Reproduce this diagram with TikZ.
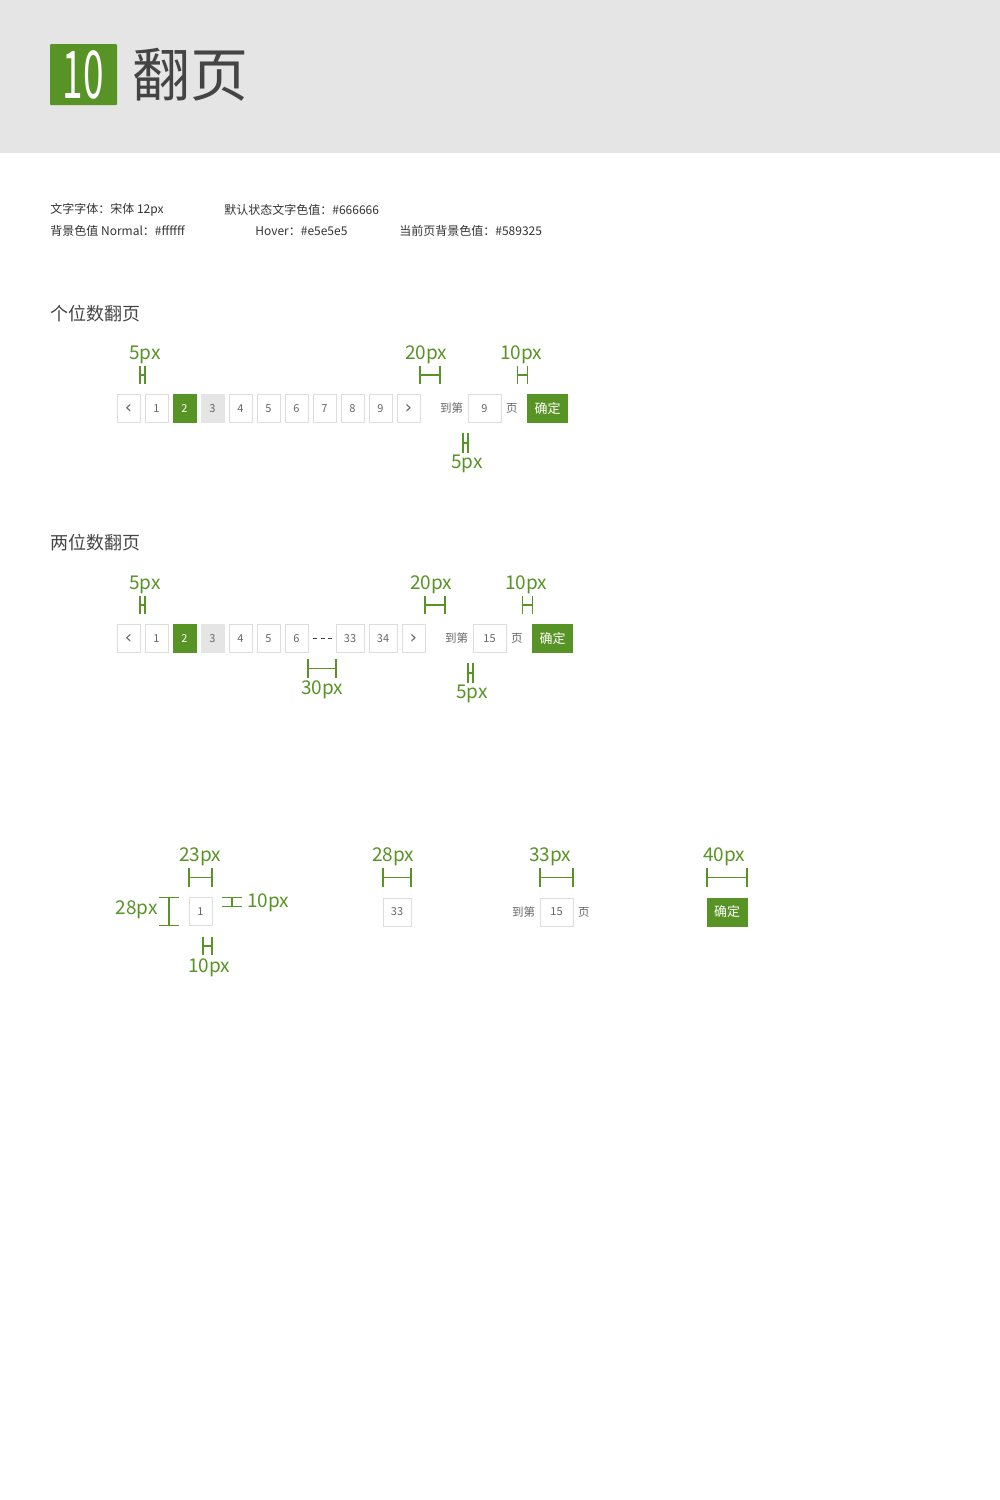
\documentclass[tikz,border=0pt]{standalone}
\usepackage{fontspec}
\setmainfont{Noto Sans CJK SC}
\newfontfamily\symfont{DejaVu Sans}
\usetikzlibrary{calc, positioning}
\definecolor{pggreen}{HTML}{589325}
\definecolor{pgline}{HTML}{DDDDDD}
\definecolor{pghover}{HTML}{E5E5E5}
\definecolor{pgtext}{HTML}{666666}
\definecolor{pgdark}{HTML}{444444}
\definecolor{pginfo}{HTML}{333333}
\def\px{0.5pt}
\def\prv{{\symfont\fontsize{9pt}{9pt}\selectfont ‹}}
\def\nxt{{\symfont\fontsize{9pt}{9pt}\selectfont ›}}
\tikzset{
    pagebox/.style = {
        draw=pgline, rectangle, line width=\px, minimum width=11.5pt, minimum height=14pt,
        inner sep=0pt, outer sep=0pt, text=pgtext, font=\fontsize{5.5pt}{6pt}\selectfont
    },
    curbox/.style = {pagebox, draw=pggreen, fill=pggreen, text=white},
    hoverbox/.style = {pagebox, draw=pghover, fill=pghover},
    okbox/.style = {pagebox, draw=pggreen, fill=pggreen, text=white, minimum width=20pt,
        font=\fontsize{6.5pt}{7pt}\selectfont},
    gotext/.style = {inner sep=0pt, outer sep=0pt, text=pgtext, font=\fontsize{5.75pt}{7pt}\selectfont},
    infotext/.style = {anchor=west, inner sep=0pt, text=pginfo, font=\fontsize{6pt}{7pt}\selectfont},
    headtext/.style = {anchor=west, inner sep=0pt, text=pgdark, font=\fontsize{9pt}{10pt}\selectfont},
    dimline/.style = {draw=pggreen, line width=0.6pt},
    dimlabel/.style = {inner sep=0pt, text=pggreen, font=\fontsize{9.5pt}{10pt}\selectfont},
}
% horizontal size mark: from, to, top, bottom
\newcommand{\hdim}[4]{%
    \pgfmathsetmacro\dmid{(#3+#4)/2}
    \draw[dimline] (#1 |- 0,#3) -- (#1 |- 0,#4)
        (#2 |- 0,#3) -- (#2 |- 0,#4)
        (#1 |- 0,\dmid) -- (#2 |- 0,\dmid);
}
% vertical size mark: from, to, left, right
\newcommand{\vdim}[4]{%
    \pgfmathsetmacro\dmid{(#3+#4)/2}
    \draw[dimline] (#3,0 |- #1) -- (#4,0 |- #1)
        (#3,0 |- #2) -- (#4,0 |- #2)
        (\dmid,0 |- #1) -- (\dmid,0 |- #2);
}

\begin{document}
\begin{tikzpicture}[x=\px, y=-\px]
        \useasboundingbox (0,0) rectangle (1000,1500);

        % Header band
        \fill[pghover] (0,0) rectangle (1000,153);
        \node[fill=pggreen, minimum width=33.5pt, minimum height=30.5pt, inner sep=0pt,
            rounded corners=0.5pt, text=white, font=\fontsize{33pt}{34pt}\selectfont]
            (numbox) at (83.5,74.5) {\scalebox{0.56}[1]{10}};
        \node[anchor=west, inner sep=0pt, text=pgdark, font=\fontsize{29pt}{30pt}\selectfont,
            right=7.5pt of numbox] (title) {翻页};

        % Spec notes
        \node[infotext] (info1) at (50,210) {文字字体：宋体 12px};
        \node[infotext] (info2) at (224,210) {默认状态文字色值：\#666666};
        \node[infotext] (info3) at (50,231) {背景色值 Normal：\#ffffff};
        \node[infotext] (info4) at (255,231) {Hover：\#e5e5e5};
        \node[infotext] (info5) at (399,231) {当前页背景色值：\#589325};

        % Single digit pager
        \node[headtext] (head1) at (50,314) {个位数翻页};
        \foreach \lab/\sty [count=\i from 0] in {\prv/pagebox, 1/pagebox, 2/curbox,
            3/hoverbox, 4/pagebox, 5/pagebox, 6/pagebox, 7/pagebox, 8/pagebox, 9/pagebox,
            \nxt/pagebox}{
            \node[\sty] (p\i) at ({128.5+28*\i},408.5) {\lab};
        }
        \node[gotext, right=10pt of p10] (go1) {到第};
        \node[pagebox, minimum width=16.5pt, right=2.5pt of go1] (in1) {9};
        \node[gotext, right=2.5pt of in1] (pg1) {页};
        \node[okbox, right=5pt of pg1] (ok1) {确定};

        \hdim{p0.east}{p1.west}{366}{384}
        \hdim{p10.east}{go1.west}{366}{384}
        \hdim{pg1.east}{ok1.west}{366}{384}
        \hdim{go1.east}{in1.west}{433}{453}
        \node[dimlabel] (d1a) at (145,355) {5px};
        \node[dimlabel] (d1b) at (426,355) {20px};
        \node[dimlabel] (d1c) at (521,355) {10px};
        \node[dimlabel] (d1d) at (467,464) {5px};

        % Two digit pager
        \node[headtext] (head2) at (50,543) {两位数翻页};
        \foreach \lab/\sty [count=\i from 0] in {\prv/pagebox, 1/pagebox, 2/curbox,
            3/hoverbox, 4/pagebox, 5/pagebox, 6/pagebox}{
            \node[\sty] (q\i) at ({128.5+28*\i},638.5) {\lab};
        }
        \node[pagebox, minimum width=14pt, right=14pt of q6] (q7) {33};
        \node[pagebox, minimum width=14pt, right=2.5pt of q7] (q8) {34};
        \node[pagebox, right=2.5pt of q8] (q9) {\nxt};
        \draw[pgdark, line width=0.75pt, dash pattern=on 2pt off 1.75pt]
            ($(q6.east)+(5,0)$) -- ($(q7.west)+(-4,0)$);
        \node[gotext, right=10pt of q9] (go2) {到第};
        \node[pagebox, minimum width=16.5pt, right=2.5pt of go2] (in2) {15};
        \node[gotext, right=2.5pt of in2] (pg2) {页};
        \node[okbox, right=5pt of pg2] (ok2) {确定};

        \hdim{q0.east}{q1.west}{596}{614}
        \hdim{q9.east}{go2.west}{596}{614}
        \hdim{pg2.east}{ok2.west}{596}{614}
        \hdim{q6.east}{q7.west}{659}{678}
        \hdim{go2.east}{in2.west}{663}{683}
        \node[dimlabel] (d2a) at (145,585) {5px};
        \node[dimlabel] (d2b) at (431,585) {20px};
        \node[dimlabel] (d2c) at (526,585) {10px};
        \node[dimlabel] (d2d) at (322,690) {30px};
        \node[dimlabel] (d2e) at (472,694) {5px};

        % Single boxes with sizes
        \node[pagebox] (b1) at (200.5,911.5) {1};
        \coordinate (b1pad) at ($(b1.north)+(0,9)$);
        \coordinate (b1side) at ($(b1.east)+(-9,0)$);
        \hdim{b1.west}{b1.east}{868}{887}
        \vdim{b1.north}{b1.south}{159}{179}
        \vdim{b1.north}{b1pad}{222}{242}
        \hdim{b1side}{b1.east}{937}{955}
        \node[dimlabel] (d3a) at (200,857) {23px};
        \node[dimlabel, anchor=east] (d3b) at (158,910) {28px};
        \node[dimlabel, anchor=west] (d3c) at (247,903) {10px};
        \node[dimlabel] (d3d) at (209,968) {10px};

        \node[pagebox, minimum width=14pt] (b2) at (397,912) {33};
        \hdim{b2.west}{b2.east}{868}{887}
        \node[dimlabel] (d3e) at (393,857) {28px};

        \node[pagebox, minimum width=16.5pt] (in3) at (556.5,912) {15};
        \node[gotext, left=2.5pt of in3] (go3) {到第};
        \node[gotext, right=2.5pt of in3] (pg3) {页};
        \hdim{in3.west}{in3.east}{868}{887}
        \node[dimlabel] (d3f) at (550,857) {33px};

        \node[okbox] (ok3) at (727,912) {确定};
        \hdim{ok3.west}{ok3.east}{868}{887}
        \node[dimlabel] (d3g) at (724,857) {40px};
\end{tikzpicture}
\end{document}
